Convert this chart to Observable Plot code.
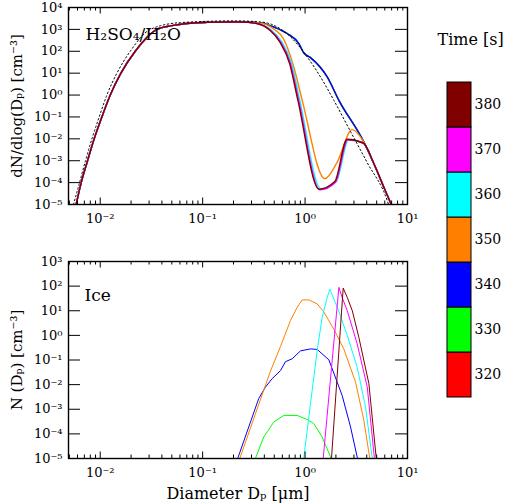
<!DOCTYPE html>
<html><head><meta charset="utf-8">
<script src="https://cdn.jsdelivr.net/npm/d3@7"></script>
<script src="https://cdn.jsdelivr.net/npm/@observablehq/plot@0.6"></script>
<style>
body{margin:0;background:#fff;}
#wrap{position:relative;width:513px;height:503px;background:#fff;font-family:"DejaVu Serif",serif;overflow:hidden;}
#top,#bot,#leg{position:absolute;}
#top{left:0;top:0;} #bot{left:0;top:240px;} #leg{left:420px;top:0;}
svg{overflow:visible;}
</style></head><body><div id="wrap"><div id="top"></div><div id="bot"></div><div id="leg"></div></div>
<script>
// ---------- categories / colours ----------
const times = [320, 330, 340, 350, 360, 370, 380];
const colors = ["#ff0000", "#00ff00", "#0000ff", "#ff8000", "#00ffff", "#ff00ff", "#800000"];

// ---------- tick values ----------
const xTicks = [0.01, 0.1, 1, 10];
const topYTicks = [1e-5, 1e-4, 1e-3, 1e-2, 1e-1, 1, 10, 100, 1000, 10000];
const botYTicks = [1e-5, 1e-4, 1e-3, 1e-2, 1e-1, 1, 10, 100, 1000];

// ---------- top panel: dN/dlog(Dp) (H2SO4/H2O) ----------
const topLeftD = [0.00582, 0.00652, 0.00752, 0.00873, 0.01038, 0.01253, 0.01592, 0.02198, 0.03581, 0.0501, 0.0703, 0.1122, 0.1866];
const topLeftN = [1e-5, 1e-4, 1e-3, 1e-2, 0.1, 1, 10, 100, 1000, 1479, 1862, 2089, 2188];
const topUpperD = [0.2339, 0.3664, 0.4943, 0.6683, 0.869, 0.9727, 1.130, 1.644, 2.138, 3.750, 4.699, 5.875, 6.950];
const topUpperN = [2188, 1995, 1288, 645.7, 223.9, 83.18, 51.29, 6.761, 0.5754, 0.007079, 7.244e-4, 6.166e-5, 1e-5];
const top350D = [0.2339, 0.3664, 0.4943, 0.6194, 0.7762, 0.9376, 1.560, 2.061, 2.884, 3.750, 4.699, 5.875, 6.950];
const top350N = [2188, 1950, 1047, 354.8, 19.05, 0.5754, 1.514e-4, 8.71e-4, 0.0263, 0.007079, 7.244e-4, 6.166e-5, 1e-5];
const top360D = [0.2339, 0.3451, 0.4677, 0.5888, 0.7379, 0.8872, 1.426, 2.018, 2.661, 3.698, 4.699, 5.875, 6.950];
const top360N = [2188, 1862, 933.3, 281.8, 28.18, 0.6026, 5.248e-5, 1.122e-4, 0.00871, 0.006457, 7.244e-4, 6.166e-5, 1e-5];
const top370D = [0.2339, 0.3404, 0.4592, 0.5754, 0.7194, 0.867, 1.393, 1.982, 2.612, 3.698, 4.699, 5.875, 6.950];
const top370N = [2188, 1862, 912, 269.2, 27.54, 0.5754, 4.677e-5, 1.047e-4, 0.00912, 0.006457, 7.244e-4, 6.166e-5, 1e-5];
const top380D = [0.2339, 0.3373, 0.4539, 0.5662, 0.7063, 0.8511, 1.368, 1.950, 2.570, 3.698, 4.699, 5.875, 6.950];
const top380N = [2188, 1862, 912, 269.2, 27.54, 0.5754, 5.012e-5, 1.122e-4, 0.00955, 0.006457, 7.244e-4, 6.166e-5, 1e-5];
const refD = [0.005483, 0.006281, 0.007178, 0.008299, 0.009772, 0.01161, 0.01455, 0.01963, 0.03083, 0.06053, 0.2089, 0.3664, 0.4943, 0.7194, 1.050, 1.413, 1.910, 2.780, 4.046, 6.339, 6.531];
const refN = [1e-5, 1e-4, 1e-3, 0.01, 0.1, 1, 10, 100, 1000, 2042, 2455, 2188, 1549, 457.1, 54.95, 6.761, 0.5754, 0.02138, 8.128e-4, 1.514e-5, 1e-5];

// ---------- bottom panel: N(Dp) ice ----------
const ice320D = [];
const ice320N = [];
const ice330D = [0.3273, 0.3945, 0.4943, 0.6194, 0.8375, 1.050, 1.216, 1.469, 1.799];
const ice330N = [1e-5, 7.413e-5, 3.020e-4, 5.623e-4, 5.623e-4, 3.802e-4, 2.630e-4, 7.413e-5, 1e-5];
const ice340D = [0.2198, 0.3524, 0.4102, 0.4764, 0.5754, 0.6427, 0.7482, 0.9016, 1.130, 1.312, 1.706, 2.301, 2.780, 3.251];
const ice340N = [1e-5, 2.692e-3, 7.943e-3, 0.01738, 0.03715, 0.08511, 0.1122, 0.2344, 0.2818, 0.2692, 0.1023, 3.631e-3, 1.905e-4, 1e-5];
const ice350D = [0.2301, 0.4592, 0.5754, 0.7194, 0.8375, 0.9376, 1.089, 1.312, 1.524, 1.910, 2.388, 3.112, 3.750, 4.285];
const ice350N = [1e-5, 0.03548, 0.3548, 3.981, 13.80, 27.54, 27.54, 19.05, 8.913, 1.778, 0.2818, 0.01259, 3.548e-4, 1e-5];
const ice360D = [0.9705, 1.130, 1.312, 1.469, 1.644, 1.742, 2.061, 2.582, 3.228, 3.890, 4.529];
const ice360N = [1e-5, 1.698e-3, 0.2399, 5.370, 34.67, 75.86, 14.13, 1, 0.05012, 1.259e-3, 1e-5];
const ice370D = [1.503, 2.138, 2.301, 2.582, 3.228, 4.046, 4.753];
const ice370N = [1e-5, 89.13, 34.67, 10, 0.4467, 7.943e-3, 1e-5];
const ice380D = [1.811, 2.355, 2.582, 2.891, 3.350, 4.198, 4.955];
const ice380N = [1e-5, 83.18, 34.67, 10, 0.8318, 0.01096, 1e-5];

// ---------- build tables ----------
const zip = (t, D, N) => D.map((d, i) => ({t, D: d, N: N[i]}));
const topRight = {320: [topUpperD, topUpperN], 330: [topUpperD, topUpperN], 340: [topUpperD, topUpperN],
  350: [top350D, top350N], 360: [top360D, top360N], 370: [top370D, top370N], 380: [top380D, top380N]};
const topRows = times.flatMap(t => zip(t, topLeftD.concat(topRight[t][0]), topLeftN.concat(topRight[t][1])));
const refRows = zip("ref", refD, refN);
const iceSeries = {320: [ice320D, ice320N], 330: [ice330D, ice330N], 340: [ice340D, ice340N], 350: [ice350D, ice350N],
  360: [ice360D, ice360N], 370: [ice370D, ice370N], 380: [ice380D, ice380N]};
const iceRows = times.flatMap(t => zip(t, iceSeries[t][0], iceSeries[t][1]));

const supMap = {"-": "\u207B", "0": "\u2070", "1": "\u00B9", "2": "\u00B2", "3": "\u00B3", "4": "\u2074", "5": "\u2075", "6": "\u2076", "7": "\u2077", "8": "\u2078", "9": "\u2079"};
const fmt = d => "10" + String(Math.round(Math.log10(d))).split("").map(c => supMap[c]).join("");
const xDomain = [0.0049, 10];
const xMinor = d3.scaleLog().domain(xDomain).ticks().filter(v => !xTicks.some(m => Math.abs(v / m - 1) < 1e-6));
const font = "DejaVu Serif";
const W = 420, mL = 68, mR = 13;
const innerW = W - mL - mR;

function frameTicks(innerH, yTicks) {
  return [
    Plot.ruleX(xMinor, {x: d => d, insetTop: innerH - 3.5, stroke: "black", strokeWidth: 1}),
    Plot.ruleX(xMinor, {x: d => d, insetBottom: innerH - 3.5, stroke: "black", strokeWidth: 1}),
    Plot.ruleX(xTicks, {x: d => d, insetTop: innerH - 6.5, stroke: "black", strokeWidth: 1}),
    Plot.ruleX(xTicks, {x: d => d, insetBottom: innerH - 6.5, stroke: "black", strokeWidth: 1}),
    Plot.ruleY(yTicks, {y: d => d, insetRight: innerW - 12, stroke: "black", strokeWidth: 1}),
    Plot.ruleY(yTicks, {y: d => d, insetLeft: innerW - 12, stroke: "black", strokeWidth: 1}),
    Plot.frame({stroke: "black", strokeWidth: 1.4}),
    Plot.axisX({ticks: xTicks, tickSize: 0, tickPadding: 9, tickFormat: fmt, fontSize: 13, label: null}),
    Plot.axisY({ticks: yTicks, tickSize: 0, tickPadding: 6, tickFormat: fmt, fontSize: 13, label: null})
  ];
}

const topH = 235, topMT = 7, topMB = 31;
const topPlot = Plot.plot({
  width: W, height: topH, marginLeft: mL, marginRight: mR, marginTop: topMT, marginBottom: topMB,
  style: {fontFamily: font, fontSize: "13px", background: "transparent", color: "black"},
  x: {type: "log", domain: xDomain, label: null},
  y: {type: "log", domain: [1e-5, 1e4], label: null},
  color: {type: "ordinal", domain: times, range: colors},
  marks: [
    Plot.line(topRows, {x: "D", y: "N", z: "t", stroke: "t", strokeWidth: 1.4, curve: "monotone-x", clip: true}),
    Plot.line(refRows, {x: "D", y: "N", stroke: "black", strokeWidth: 1, strokeDasharray: "1.5,2.5", curve: "monotone-x", clip: true}),
    ...frameTicks(topH - topMT - topMB, topYTicks),
    Plot.text(["H\u2082SO\u2084/H\u2082O"], {frameAnchor: "top-left", dx: 17, dy: 27, textAnchor: "start", lineAnchor: "middle", fontSize: 17}),
    Plot.text(["dN/dlog(D\u209A) [cm\u207B\u00B3]"], {frameAnchor: "left", rotate: -90, dx: -51, textAnchor: "middle", lineAnchor: "middle", fontSize: 15})
  ]
});
document.getElementById("top").appendChild(topPlot);

const botH = 263, botMT = 21, botMB = 45;
const botPlot = Plot.plot({
  width: W, height: botH, marginLeft: mL, marginRight: mR, marginTop: botMT, marginBottom: botMB,
  style: {fontFamily: font, fontSize: "13px", background: "transparent", color: "black"},
  x: {type: "log", domain: xDomain, label: null},
  y: {type: "log", domain: [1e-5, 1e3], label: null},
  color: {type: "ordinal", domain: times, range: colors},
  marks: [
    Plot.line(iceRows, {x: "D", y: "N", z: "t", stroke: "t", strokeWidth: 1, curve: "linear", clip: true}),
    ...frameTicks(botH - botMT - botMB, botYTicks),
    Plot.text(["Ice"], {frameAnchor: "top-left", dx: 16, dy: 34, textAnchor: "start", lineAnchor: "middle", fontSize: 17}),
    Plot.text(["N (D\u209A) [cm\u207B\u00B3]"], {frameAnchor: "left", rotate: -90, dx: -51, textAnchor: "middle", lineAnchor: "middle", fontSize: 15}),
    Plot.text(["Diameter D\u209A [\u03BCm]"], {frameAnchor: "bottom", dy: 35, textAnchor: "middle", lineAnchor: "middle", fontSize: 16})
  ]
});
document.getElementById("bot").appendChild(botPlot);

const legPlot = Plot.plot({
  width: 93, height: 420, marginLeft: 27, marginRight: 42, marginTop: 80, marginBottom: 22,
  style: {fontFamily: font, fontSize: "14px", background: "transparent", color: "black"},
  x: {domain: ["bar"], padding: 0, axis: null},
  y: {domain: times.slice().reverse(), padding: 0, axis: null},
  color: {type: "ordinal", domain: times, range: colors},
  marks: [
    Plot.cell(times, {x: () => "bar", y: d => d, fill: d => d, stroke: "black", strokeWidth: 1, inset: 0}),
    Plot.text(times, {x: () => "bar", y: d => d, text: d => String(d), dx: 15, textAnchor: "start", fontSize: 14}),
    Plot.text(["Time [s]"], {frameAnchor: "top-left", dx: -10, dy: -41, textAnchor: "start", lineAnchor: "middle", fontSize: 16})
  ]
});
document.getElementById("leg").appendChild(legPlot);
</script>
</body></html>
